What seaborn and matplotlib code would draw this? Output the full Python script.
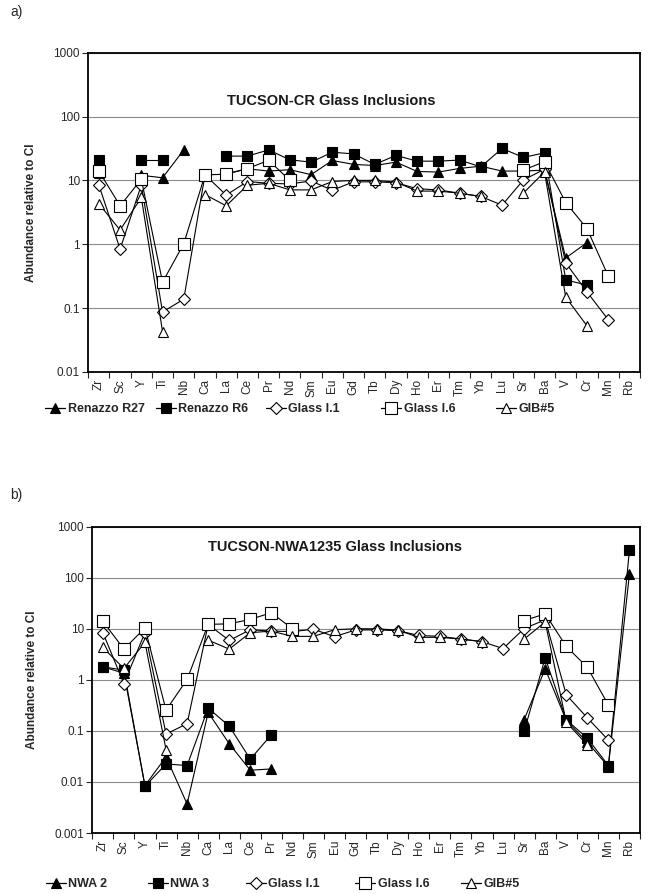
import matplotlib
matplotlib.use("Agg")
import matplotlib.pyplot as plt
from matplotlib.lines import Line2D
import numpy as np
import pandas as pd
import seaborn as sns

sns.set_style("white")
plt.rcParams['font.family'] = ['Liberation Sans', 'DejaVu Sans']

nan = np.nan

# elements along the x axis
elements = ["Zr", "Sc", "Y", "Ti", "Nb", "Ca", "La", "Ce", "Pr", "Nd", "Sm", "Eu", "Gd",
            "Tb", "Dy", "Ho", "Er", "Tm", "Yb", "Lu", "Sr", "Ba", "V", "Cr", "Mn", "Rb"]

# panel a: Renazzo
renazzo_r27 = [13, nan, 12, 11, 30, nan, 12.7, 15.2, 14, 14.7, 12.3, 20.5, 17.8,
               17.1, 19.3, 13.8, 13.5, 15.4, 16.7, 14, 14, 14.5, 0.61, 1.06, nan, nan]
renazzo_r6 = [21, nan, 21, 21, nan, nan, 24, 24, 30, 21, 19.3, 27.6, 26,
              17.8, 24.6, 20, 20, 20.8, 16.3, 31.6, 22.9, 27, 0.277, 0.229, nan, nan]

# panel b: NWA 1235
nwa2 = [1.8, 1.35, 0.0085, 0.031, 0.0037, 0.23, 0.056, 0.017, 0.018, nan, nan, nan, nan,
        nan, nan, nan, nan, nan, nan, nan, 0.167, 1.64, 0.16, 0.06, 0.02, 120]
nwa3 = [1.8, 1.55, 0.0082, 0.0225, 0.021, 0.28, 0.124, 0.028, 0.084, nan, nan, nan, nan,
        nan, nan, nan, nan, nan, nan, nan, 0.098, 2.7, 0.165, 0.072, 0.021, 350]

# glass reference compositions (both panels)
glass_i1 = [8.45, 0.84, 8.45, 0.087, 0.138, 12.2, 5.9, 9.6, 9, 8.8, 9.8, 7, 9.5,
            9.5, 9.2, 7.4, 7.1, 6.3, 5.6, 4.1, 10.1, 15, 0.51, 0.18, 0.066, nan]
glass_i6 = [14, 4, 10.4, 0.255, 1.02, 12.2, 12.5, 15.3, 20.6, 10, nan, nan, nan,
            nan, nan, nan, nan, nan, nan, nan, 14.5, 19.6, 4.5, 1.76, 0.32, nan]
gib5 = [4.3, 1.67, 5.4, 0.043, nan, 6, 4, 8.4, 9, 7.1, 7.1, 9.6, 10,
        10, 9.4, 6.8, 6.8, 6.3, 5.6, nan, 6.3, 13.6, 0.148, 0.053, nan, nan]

legend_a = ["Renazzo R27", "Renazzo R6", "Glass I.1", "Glass I.6", "GIB#5"]
legend_b = ["NWA 2", "NWA 3", "Glass I.1", "Glass I.6", "GIB#5"]

styles = {
    "tri_f": dict(marker="^", markersize=7, markerfacecolor="black", markeredgecolor="black"),
    "sq_f": dict(marker="s", markersize=6.5, markerfacecolor="black", markeredgecolor="black"),
    "dia_o": dict(marker="D", markersize=6, markerfacecolor="white", markeredgecolor="black"),
    "sq_o": dict(marker="s", markersize=9, markerfacecolor="white", markeredgecolor="black"),
    "tri_o": dict(marker="^", markersize=7, markerfacecolor="white", markeredgecolor="black"),
}
style_order = ["tri_f", "sq_f", "dia_o", "sq_o", "tri_o"]


def draw_series(ax, values, style):
    # split into runs so that missing values leave a gap in the line
    df = pd.DataFrame({"pos": np.arange(len(values)), "val": values})
    df["seg"] = df["val"].isna().cumsum()
    df = df.dropna()
    sns.lineplot(data=df, x="pos", y="val", units="seg", estimator=None, sort=False,
                 color="black", linewidth=0.8, markeredgewidth=0.8, ax=ax,
                 **styles[style])


def setup_axes(ax, ymin, title, tx, ty):
    ax.set_yscale("log")
    ax.set_ylim(ymin, 1000)
    ax.set_xlim(-0.5, len(elements) - 0.5)
    ax.yaxis.grid(True, which="major", color="#8c8c8c", linewidth=0.8)
    ax.xaxis.grid(False)
    ax.set_axisbelow(True)
    ticks = [10.0 ** k for k in range(int(np.log10(ymin)), 4)]
    ax.set_yticks(ticks)
    ax.set_yticklabels([("%g" % t) for t in ticks], fontsize=8.5)
    ax.yaxis.set_minor_locator(matplotlib.ticker.NullLocator())
    ax.tick_params(axis="y", which="major", length=4, width=0.8, direction="out",
                   left=True, pad=2)
    ax.set_xticks(np.arange(len(elements)))
    ax.set_xticklabels(elements, rotation=90, fontsize=8.5)
    ax.tick_params(axis="x", which="major", length=0, pad=5)
    ax.set_xticks(np.arange(len(elements) + 1) - 0.5, minor=True)
    ax.tick_params(axis="x", which="minor", length=4, width=0.8, direction="out",
                   bottom=True)
    for sp in ax.spines.values():
        sp.set_visible(True)
        sp.set_color("black")
        sp.set_linewidth(1.3)
    ax.set_xlabel("")
    ax.set_ylabel("Abundance relative to CI", fontsize=8.5, fontweight="bold", labelpad=12)
    ax.text(tx, ty, title, transform=ax.transAxes, ha="center", va="center",
            fontsize=10.5, fontweight="bold", color="#1a1a1a")


def add_legend(fig, names, xs, y):
    # one small legend per entry, spaced like the original spreadsheet legend
    for name, key, x in zip(names, style_order, xs):
        h = Line2D([0], [0], color="black", linewidth=0.9, markeredgewidth=0.8,
                   label=name, **styles[key])
        fig.legend(handles=[h], loc="center left", bbox_to_anchor=(x / 651, 1 - y / 894),
                   frameon=False, prop=dict(size=9, weight="bold"), handlelength=1.6,
                   handletextpad=0.2, borderpad=0, borderaxespad=0)


fig = plt.figure(figsize=(6.51, 8.94), dpi=100)
ax1 = fig.add_axes([0.1356, 0.5839, 0.8475, 0.3572])
ax2 = fig.add_axes([0.1418, 0.0682, 0.8413, 0.3427])

for vals, st in zip([renazzo_r27, renazzo_r6, glass_i1, glass_i6, gib5], style_order):
    draw_series(ax1, vals, st)
for vals, st in zip([nwa2, nwa3, glass_i1, glass_i6, gib5], style_order):
    draw_series(ax2, vals, st)

setup_axes(ax1, 0.01, "TUCSON-CR Glass Inclusions", 0.44, 0.85)
setup_axes(ax2, 0.001, "TUCSON-NWA1235 Glass Inclusions", 0.443, 0.935)

add_legend(fig, legend_a, [45, 156, 266, 381, 496], 409)
add_legend(fig, legend_b, [46, 148, 246, 355, 461], 884)

fig.text(10 / 651, 1 - 12 / 894, "a)", fontsize=10, va="center", ha="left")
fig.text(10 / 651, 1 - 495 / 894, "b)", fontsize=10, va="center", ha="left")

fig.savefig("out.png", dpi=100)
